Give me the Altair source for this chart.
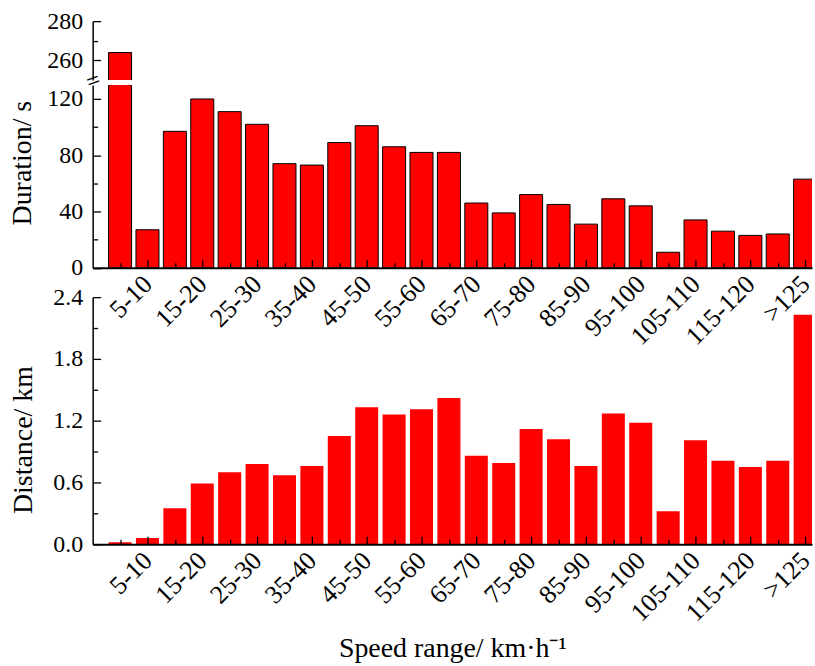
import altair as alt
import pandas as pd

# Speed bins and the two measured quantities per bin
speed_ranges = ["0-5", "5-10", "10-15", "15-20", "20-25", "25-30", "30-35", "35-40",
                "40-45", "45-50", "50-55", "55-60", "60-65", "65-70", "70-75", "75-80",
                "80-85", "85-90", "90-95", "95-100", "100-105", "105-110", "110-115",
                "115-120", "120-125", ">125"]
duration_s = [264, 27, 97, 120, 111, 102, 74, 73, 89, 101, 86, 82, 82, 46, 39, 52,
              45, 31, 49, 44, 11, 34, 26, 23, 24, 63]
distance_km = [0.02, 0.06, 0.35, 0.59, 0.70, 0.78, 0.67, 0.76, 1.05, 1.33, 1.26, 1.31,
               1.42, 0.86, 0.79, 1.12, 1.02, 0.76, 1.27, 1.18, 0.32, 1.01, 0.81, 0.75,
               0.81, 2.23]

# Broken duration axis: a lower and an upper segment
duration_low_domain = [0, 130]
duration_low_major = [0, 40, 80, 120]
duration_low_minor = [20, 60, 100]
duration_high_domain = [250, 280]
duration_high_major = [260, 280]
duration_high_minor = [270]
distance_domain = [0, 2.4]
distance_major = [0, 0.6, 1.2, 1.8, 2.4]
distance_minor = [0.3, 0.9, 1.5, 2.1]

FONT = "Liberation Serif"
RED = "#ff0000"
PLOT_W = 722
HALF_BAR = 0.42
GAP = 5

df = pd.DataFrame({"speed_range": speed_ranges, "duration": duration_s,
                   "distance": distance_km})
df["pos"] = list(range(1, len(df) + 1))

labeled_pos = [int(p) for p in df["pos"] if p % 2 == 0]
unlabeled_pos = [int(p) for p in df["pos"] if p % 2 == 1]
x_domain = [0, 26.25]
x_scale = alt.Scale(domain=x_domain, nice=False, zero=False)
label_expr = "[" + ",".join("'%s'" % s for s in speed_ranges) + "][datum.value - 1]"


def tick_axis(orient, values, length):
    # tick-only axis pulled inside the plot so the ticks point inwards
    return alt.Axis(orient=orient, values=values, tickSize=length, offset=-length,
                    ticks=True, tickColor="black", tickWidth=1.3, domain=False,
                    labels=False, grid=False, title=None, zindex=1)


def x_main_axis(title=None):
    kw = dict(orient="bottom", values=labeled_pos, labelExpr=label_expr, labelAngle=315,
              labelAlign="right", labelBaseline="middle", labelPadding=12,
              labelFontSize=26, labelOverlap=False, labelFlush=False, ticks=False,
              tickSize=0, domain=True, domainColor="black", domainWidth=2, grid=False,
              zindex=1)
    if title:
        kw.update(title=title, titleFontSize=28, titleY=113, titleBaseline="alphabetic")
    else:
        kw["title"] = None
    return alt.Axis(**kw)


def y_main_axis(values, fmt, title=None, title_x=0, title_y=0):
    kw = dict(orient="left", values=values, format=fmt, labelFontSize=24,
              labelPadding=10, labelOverlap=False, labelFlush=False, ticks=False,
              tickSize=0, domain=True, domainColor="black", domainWidth=1.5,
              grid=False, zindex=1)
    if title:
        kw.update(title=title, titleFontSize=28, titleX=title_x, titleY=title_y,
                  titleAngle=270, titleAlign="center", titleBaseline="alphabetic")
    else:
        kw["title"] = None
    return alt.Axis(**kw)


def panel(field, domain, major, minor, y_axis, x_axis, bar_style, x_ticks):
    y_scale = alt.Scale(domain=domain, nice=False, zero=False)
    base = alt.Chart(df)
    bars = base.transform_calculate(
        x0="datum.pos - %s" % HALF_BAR, x1="datum.pos + %s" % HALF_BAR
    ).mark_rect(clip=True, fill=RED, **bar_style).encode(
        x=alt.X("x0:Q", scale=x_scale, axis=x_axis),
        x2="x1:Q",
        y=alt.Y("%s:Q" % field, scale=y_scale, axis=y_axis),
        y2=alt.datum(0),
    )
    layers = [bars]
    for xs, ys, length in [(labeled_pos, major, 8), (unlabeled_pos, minor, 5)]:
        layers.append(base.mark_point(opacity=0, clip=True).encode(
            x=alt.X("pos:Q", scale=x_scale,
                    axis=tick_axis("bottom", xs, length) if x_ticks else None),
            y=alt.Y("%s:Q" % field, scale=y_scale, axis=tick_axis("left", ys, length)),
        ))
    return layers, y_scale


outlined = dict(stroke="black", strokeWidth=1)

# Upper segment of the duration panel (only the 0-5 bar reaches it)
high_layers, _ = panel("duration", duration_high_domain, duration_high_major,
                       duration_high_minor, y_main_axis(duration_high_major, "d"),
                       None, outlined, False)
upper = alt.layer(*high_layers).properties(width=PLOT_W, height=59).resolve_axis(
    x="independent", y="independent")

# Lower segment of the duration panel, with the axis-break marker on top
low_layers, low_scale = panel("duration", duration_low_domain, duration_low_major,
                              duration_low_minor,
                              y_main_axis(duration_low_major, "d", "Duration/ s", -62, 78),
                              x_main_axis(), outlined, True)
brk = pd.DataFrame({"x": [x_domain[0]], "y": [duration_low_domain[1]]})
break_mark = alt.Chart(brk).mark_text(
    text="=", font=FONT, fontSize=24, angle=340, dx=2, dy=-3, color="black"
).encode(
    x=alt.X("x:Q", scale=x_scale, axis=None),
    y=alt.Y("y:Q", scale=low_scale, axis=None),
)
lower = alt.layer(*low_layers, break_mark).properties(width=PLOT_W, height=183.5).resolve_axis(
    x="independent", y="independent")

# Empty band between the two panels (the duration labels hang into it)
spacer = alt.Chart(brk).mark_point(opacity=0).encode(
    x=alt.X("x:Q", scale=x_scale, axis=None)
).properties(width=PLOT_W, height=28.5 - 2 * GAP)

# Distance panel
dist_layers, _ = panel("distance", distance_domain, distance_major, distance_minor,
                       y_main_axis(distance_major, ".1f", "Distance/ km", -61, 143),
                       x_main_axis("Speed range/ km·h⁻¹"), {}, True)
bottom = alt.layer(*dist_layers).properties(width=PLOT_W, height=248).resolve_axis(
    x="independent", y="independent")

chart = alt.vconcat(upper, lower, spacer, bottom, spacing=GAP, bounds="flush").configure_view(
    stroke=None
).configure_axis(
    labelFont=FONT, titleFont=FONT, labelColor="black", titleColor="black",
    titleFontWeight="normal", domainColor="black", tickColor="black"
).properties(
    padding={"left": 9, "top": 8, "right": 0, "bottom": 0},
    background="white",
)

chart.save("out.html", embed_options={"renderer": "svg", "actions": False})
